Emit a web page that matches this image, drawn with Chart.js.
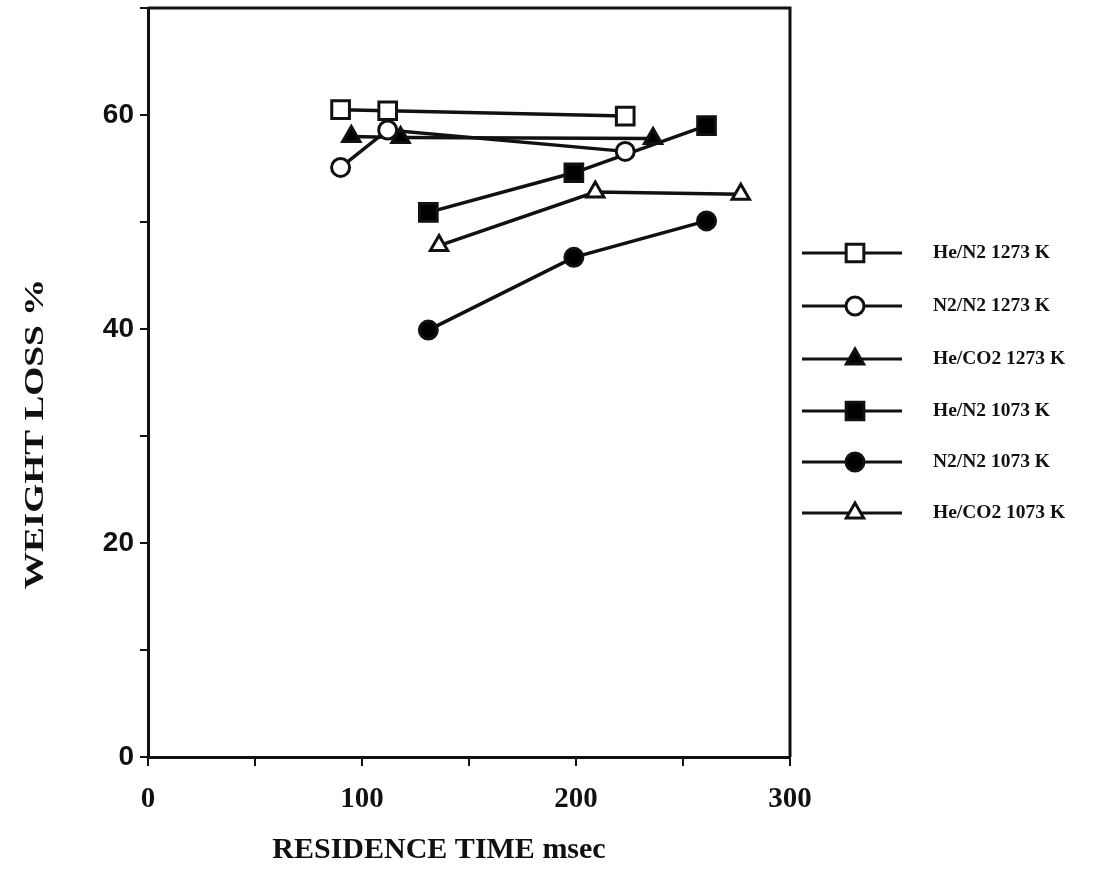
<!DOCTYPE html>
<html>
<head>
<meta charset="utf-8">
<script src="https://cdn.jsdelivr.net/npm/chart.js@4/dist/chart.umd.min.js"></script>
<style>
  body { margin: 0; background: #fff; }
  #wrap { position: relative; width: 1102px; height: 869px; }
</style>
</head>
<body>
<div id="wrap"><canvas id="chartDestination"></canvas></div>
<script>
// data (residence time msec, weight loss %)
const seriesNames = ["He/N2 1273 K", "N2/N2 1273 K", "He/CO2 1273 K", "He/N2 1073 K", "N2/N2 1073 K", "He/CO2 1073 K"];

const heN2_1273_x = [90, 112, 223];
const heN2_1273_y = [60.5, 60.4, 59.9];
const n2N2_1273_x = [90, 112, 223];
const n2N2_1273_y = [55.1, 58.6, 56.6];
const heCO2_1273_x = [95, 118, 236];
const heCO2_1273_y = [58.0, 57.9, 57.8];
const heN2_1073_x = [131, 199, 261];
const heN2_1073_y = [50.9, 54.6, 59.0];
const n2N2_1073_x = [131, 199, 261];
const n2N2_1073_y = [39.9, 46.7, 50.1];
const heCO2_1073_x = [136, 209, 277];
const heCO2_1073_y = [47.8, 52.8, 52.6];

const xTicksLabelled = [0, 100, 200, 300];
const yTicksLabelled = [0, 20, 40, 60];
const xTitle = "RESIDENCE TIME msec";
const yTitle = "WEIGHT LOSS %";

const SERIF = "'Liberation Serif', 'DejaVu Serif', serif";
const SANS = "'Liberation Sans', Arial, sans-serif";

function pairs(xs, ys) {
  return xs.map((x, i) => ({ x: x, y: ys[i] }));
}

// marker look per series
const markers = [
  { style: "rect", radius: 12.5, fill: "#fff" },
  { style: "circle", radius: 9, fill: "#fff" },
  { style: "triangle", radius: 10, fill: "#000" },
  { style: "rect", radius: 12.5, fill: "#000" },
  { style: "circle", radius: 9, fill: "#000" },
  { style: "triangle", radius: 10, fill: "#fff" },
];

const seriesData = [
  pairs(heN2_1273_x, heN2_1273_y),
  pairs(n2N2_1273_x, n2N2_1273_y),
  pairs(heCO2_1273_x, heCO2_1273_y),
  pairs(heN2_1073_x, heN2_1073_y),
  pairs(n2N2_1073_x, n2N2_1073_y),
  pairs(heCO2_1073_x, heCO2_1073_y),
];

const datasets = seriesData.map((d, i) => ({
  label: seriesNames[i],
  data: d,
  borderColor: "#111",
  borderWidth: 3.5,
  tension: 0,
  pointStyle: markers[i].style,
  pointRadius: markers[i].radius,
  pointBackgroundColor: markers[i].fill,
  pointBorderColor: "#111",
  pointBorderWidth: 3,
}));

function drawMarker(ctx, m, x, y) {
  ctx.save();
  ctx.fillStyle = m.fill;
  ctx.strokeStyle = "#111";
  ctx.lineWidth = 3;
  ctx.beginPath();
  if (m.style === "rect") {
    const s = m.radius / Math.SQRT2;
    ctx.rect(x - s, y - s, 2 * s, 2 * s);
  } else if (m.style === "circle") {
    ctx.arc(x, y, m.radius, 0, Math.PI * 2);
  } else {
    const r = m.radius;
    ctx.moveTo(x, y - r);
    ctx.lineTo(x + r * Math.sin(Math.PI / 3), y + r / 2);
    ctx.lineTo(x - r * Math.sin(Math.PI / 3), y + r / 2);
    ctx.closePath();
  }
  ctx.fill();
  ctx.stroke();
  ctx.restore();
}

// frame on top/right, axis titles and the side legend
const framePlugin = {
  id: "frameAndLegend",
  afterDraw(chart) {
    const { ctx, chartArea } = chart;
    ctx.save();
    ctx.strokeStyle = "#111";
    ctx.lineWidth = 3;
    ctx.beginPath();
    ctx.moveTo(chartArea.left, chartArea.top);
    ctx.lineTo(chartArea.right, chartArea.top);
    ctx.lineTo(chartArea.right, chartArea.bottom);
    ctx.stroke();

    ctx.fillStyle = "#111";
    ctx.font = "bold 30px " + SERIF;
    ctx.textAlign = "center";
    ctx.textBaseline = "middle";
    ctx.fillText(xTitle, 439, 850);
    ctx.save();
    ctx.translate(36, 434);
    ctx.rotate(-Math.PI / 2);
    ctx.scale(1.33, 1);
    ctx.font = "bold 28px " + SERIF;
    ctx.fillText(yTitle, 0, 0);
    ctx.restore();

    const rowY = [253, 306, 359, 411, 462, 513];
    seriesNames.forEach((name, i) => {
      const y = rowY[i];
      ctx.strokeStyle = "#111";
      ctx.lineWidth = 3;
      ctx.beginPath();
      ctx.moveTo(802, y);
      ctx.lineTo(902, y);
      ctx.stroke();
      drawMarker(ctx, markers[i], 855, y);
      ctx.fillStyle = "#111";
      ctx.font = "bold 19.5px " + SERIF;
      ctx.textBaseline = "middle";
      ctx.textAlign = "left";
      ctx.fillText(name, 933, y);
    });
    ctx.restore();
  },
};

const ctx = document.getElementById("chartDestination");
const chart = new Chart(ctx, {
  type: "line",
  data: { datasets: datasets },
  options: {
    responsive: true,
    maintainAspectRatio: false,
    animation: false,
    layout: { autoPadding: false, padding: { left: 12, right: 312, top: 8, bottom: 4 } },
    scales: {
      x: {
        type: "linear",
        min: 0,
        max: 300,
        border: { display: true, color: "#111", width: 3 },
        grid: { drawOnChartArea: false, drawTicks: true, tickLength: 9, color: "#111", lineWidth: 2 },
        ticks: {
          stepSize: 50,
          color: "#111",
          padding: 16,
          maxRotation: 0,
          font: { family: SERIF, size: 29, weight: "bold" },
          callback: (v) => (xTicksLabelled.includes(v) ? v : ""),
        },
        afterFit(scale) { scale.height = 108; },
      },
      y: {
        min: 0,
        max: 70,
        border: { display: true, color: "#111", width: 3 },
        grid: { drawOnChartArea: false, drawTicks: true, tickLength: 8, color: "#111", lineWidth: 2 },
        ticks: {
          stepSize: 10,
          color: "#111",
          padding: 6,
          font: { family: SANS, size: 28, weight: "bold" },
          callback: (v) => (yTicksLabelled.includes(v) ? v : ""),
        },
        afterFit(scale) {
          scale.width = 136;
          scale.paddingTop = 0;
        },
      },
    },
    plugins: {
      legend: { display: false },
      tooltip: { enabled: false },
    },
  },
  plugins: [framePlugin],
});
</script>
</body>
</html>
